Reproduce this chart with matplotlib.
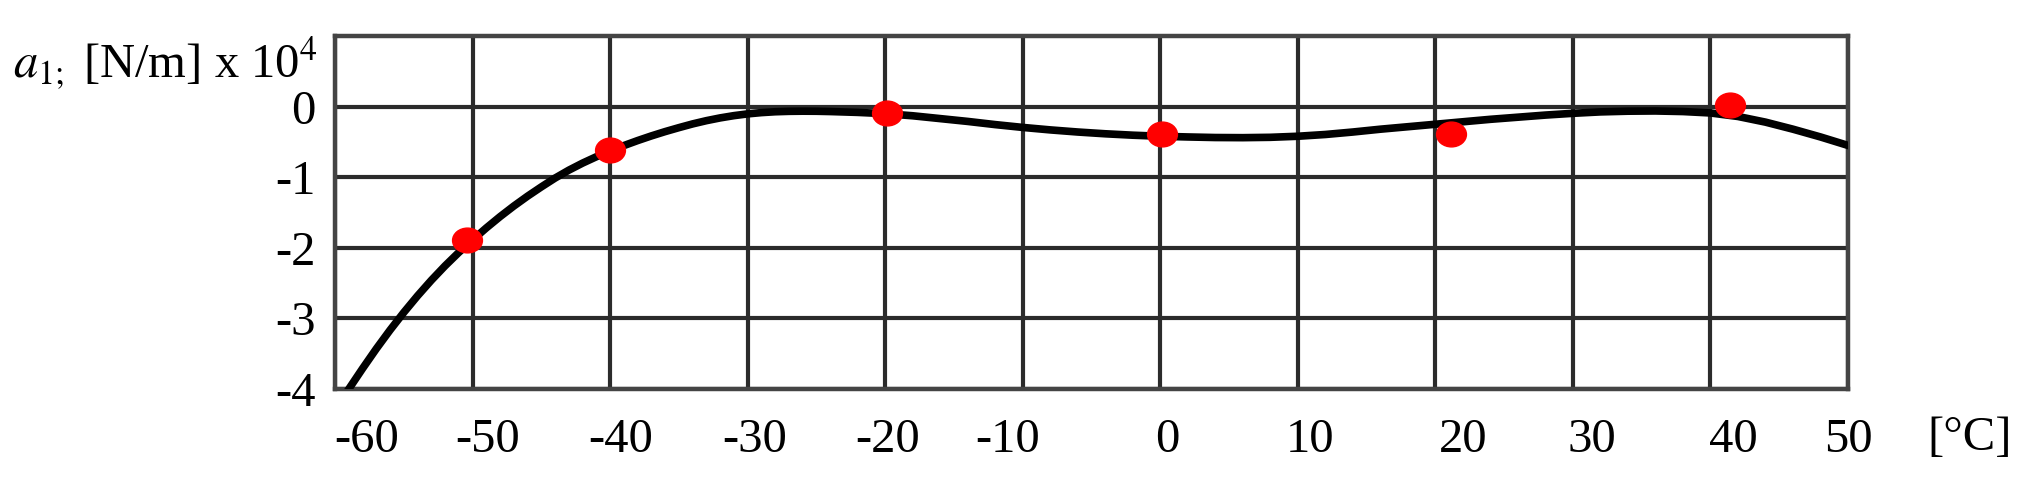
import numpy as np
import matplotlib
matplotlib.use("Agg")
import matplotlib.pyplot as plt
from matplotlib.path import Path
from matplotlib.transforms import Affine2D

# valores (curva ajustada del original)
temp_curva = [-59, -58, -57, -56, -55, -54, -53, -52, -51, -50, -49, -48, -47,
              -46, -45, -44, -43, -42, -41, -40, -39, -38, -37, -36, -35, -34,
              -33, -32, -31, -30, -29, -28, -27, -26, -25, -24, -22, -20, -18,
              -16, -14, -12, -10, -8, -6, -4, -2, 0, 2, 4, 6, 8, 10, 12, 14,
              16, 18, 20, 22, 24, 26, 28, 30, 32, 34, 36, 38, 40, 42, 44, 46,
              48, 50]
a1_curva = [-4.000, -3.710, -3.430, -3.165, -2.915, -2.680, -2.460, -2.255,
            -2.065, -1.888, -1.718, -1.558, -1.408, -1.268, -1.137, -1.012,
            -0.900, -0.800, -0.710, -0.628, -0.552, -0.481, -0.415, -0.354,
            -0.298, -0.245, -0.199, -0.160, -0.128, -0.103, -0.085, -0.073,
            -0.067, -0.065, -0.066, -0.070, -0.082, -0.100, -0.130, -0.170,
            -0.210, -0.255, -0.295, -0.330, -0.360, -0.385, -0.405, -0.420,
            -0.430, -0.438, -0.440, -0.435, -0.420, -0.395, -0.360, -0.320,
            -0.285, -0.250, -0.215, -0.180, -0.150, -0.120, -0.095, -0.075,
            -0.065, -0.062, -0.070, -0.090, -0.140, -0.220, -0.320, -0.430,
            -0.550]

# puntos medidos
temp_puntos = [-50.4, -40, -19.85, 0.1, 21.1, 41.4]
a1_puntos = [-1.89, -0.61, -0.09, -0.385, -0.39, 0.02]

x_grid = list(range(-60, 51, 10))
x_etiquetas = ["-60", "-50", "-40", "-30", "-20", "-10", "0", "10", "20", "30", "40", "50"]
# las etiquetas del original no estan centradas en la rejilla
x_pos_etiquetas = [-57.7, -48.9, -39.2, -29.5, -19.8, -11.1, 0.5, 10.9, 22.0, 31.4, 41.7, 50.0]
y_ticks = [-4, -3, -2, -1, 0]
y_etiquetas = ["-4", "-3", "-2", "-1", "0"]

plt.rcParams['font.family'] = ['Liberation Serif', 'DejaVu Serif']
plt.rcParams['mathtext.fontset'] = 'stix'

fig = plt.figure(figsize=(20.27, 4.94), dpi=100)
ax = fig.add_axes([0.1653, 0.2126, 0.9117 - 0.1653, 0.9271 - 0.2126])

ax.set_xlim(-60, 50)
ax.set_ylim(-4, 1)

ax.xaxis.remove_overlapping_locs = False
ax.set_xticks(x_grid, labels=[""] * len(x_grid))
ax.set_xticks(x_pos_etiquetas, labels=x_etiquetas, minor=True)
ax.set_yticks(y_ticks, labels=y_etiquetas)
ax.tick_params(axis='both', which='both', length=0, labelsize=35)
ax.tick_params(axis='x', which='minor', pad=21)
ax.tick_params(axis='y', pad=14)

ax.grid(True, which='major', color='#2b2b2b', linewidth=3)
for s in ax.spines.values():
    s.set_color('#444444')
    s.set_linewidth(3.2)

ax.plot(temp_curva, a1_curva, color='black', linewidth=5.5, zorder=3,
        solid_joinstyle='round')

# puntos algo ovalados como en el original
elipse = Path.unit_circle().transformed(Affine2D().scale(1.0, 0.83))
ax.plot(temp_puntos, a1_puntos, linestyle='none', marker=elipse,
        markersize=21.5, color='#ff0000', zorder=4)

fig.text(13 / 2027, 1 - 78 / 494, r"$a_{\mathit{1;}}$ [N/m] x 10$^4$",
         fontsize=35, ha='left', va='baseline')
fig.text(1927 / 2027, 1 - 438 / 494, "[°C]", fontsize=35, ha='left', va='center')

fig.savefig("out.png", dpi=100)
